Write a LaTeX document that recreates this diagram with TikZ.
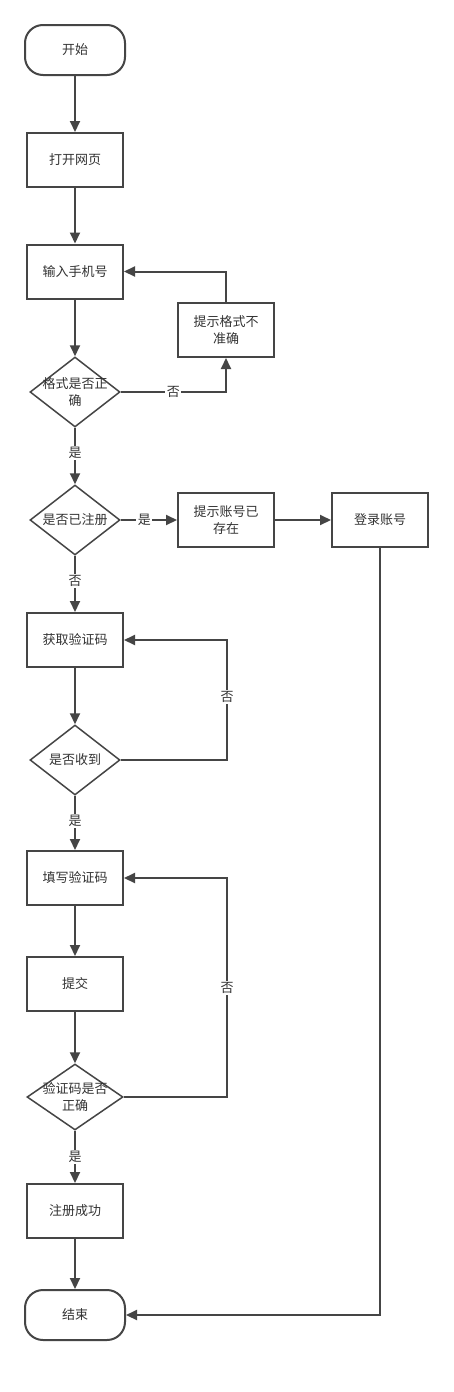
\documentclass[tikz,border=0pt]{standalone}
\usepackage{fontspec}
\setmainfont{Noto Sans CJK SC}
\usetikzlibrary{shapes.geometric,arrows.meta}
\definecolor{ln}{HTML}{454545}
\definecolor{tx}{HTML}{333333}
\begin{document}
\begin{tikzpicture}[x=1pt,y=-1pt,
  txtfont/.style={text=tx, font=\fontsize{13}{16.5}\selectfont},
  box/.style={draw=ln, line width=2pt, minimum width=96pt, minimum height=54pt, inner sep=0pt, align=center, txtfont},
  term/.style={draw=ln, line width=2pt, rounded corners=18pt, minimum width=100pt, minimum height=50pt, inner sep=0pt, align=center, txtfont},
  dia/.style={draw=ln, line width=1.5pt, diamond, minimum width=90pt, minimum height=70pt, inner sep=0pt},
  diatext/.style={align=center, inner sep=0pt, txtfont},
  lbl/.style={fill=white, inner sep=1.5pt, txtfont},
  conn/.style={draw=ln, line width=2pt, -{Triangle[length=11pt,width=10pt]}},
  plain/.style={draw=ln, line width=2pt}
]
\useasboundingbox (0,0) rectangle (453,1392);
\fill[white] (0,0) rectangle (453,1392);

% nodes
\node[term] (start) at (75,50) {开始};
\node[box] (open) at (75,160) {打开网页};
\node[box] (input) at (75,271.5) {输入手机号};
\node[box] (hint1) at (226,330) {提示格式不\\准确};
\node[dia] (d1) at (75,392) {};
\node[diatext] (d1t) at (d1) {格式是否正\\确};
\node[dia] (d2) at (75,520) {};
\node[diatext] (d2t) at (d2) {是否已注册};
\node[box] (hint2) at (226,520) {提示账号已\\存在};
\node[box] (login) at (380,520) {登录账号};
\node[box] (get) at (75,640) {获取验证码};
\node[dia] (d3) at (75,760) {};
\node[diatext] (d3t) at (d3) {是否收到};
\node[box] (fill) at (75,878) {填写验证码};
\node[box] (submit) at (75,984) {提交};
\node[dia, minimum width=96pt, minimum height=66pt] (d4) at (75,1097) {};
\node[diatext] (d4t) at (d4) {验证码是否\\正确};
\node[box] (ok) at (75,1211) {注册成功};
\node[term] (end) at (75,1315) {结束};

\coordinate (loop1) at (227,700);
\coordinate (loop2) at (227,990);

% connectors
\draw[conn] (start) -- (open);
\draw[conn] (open) -- (input);
\draw[conn] (input) -- (d1);
\draw[conn] (d1.east) -| node[lbl, pos=0.25] {否} (hint1.south);
\draw[conn] (hint1.north) |- (input.east);
\draw[conn] (d1.south) -- node[lbl, pos=0.45] {是} (d2.north);
\draw[conn] (d2.east) -- node[lbl, pos=0.42] {是} (hint2.west);
\draw[conn] (hint2.east) -- (login.west);
\draw[conn] (d2.south) -- node[lbl, pos=0.45] {否} (get.north);
\draw[conn] (get) -- (d3);
\draw[conn] (d3.east) -| (loop1) |- (get.east);
\node[lbl] at (227,697) {否};
\draw[conn] (d3.south) -- node[lbl, pos=0.47] {是} (fill.north);
\draw[conn] (fill) -- (submit);
\draw[conn] (submit) -- (d4);
\draw[conn] (d4.east) -| (loop2) |- (fill.east);
\node[lbl] at (227,988) {否};
\draw[conn] (d4.south) -- node[lbl, pos=0.5] {是} (ok.north);
\draw[conn] (ok) -- (end);
\draw[conn] (login.south) |- (end.east);
\end{tikzpicture}
\end{document}
